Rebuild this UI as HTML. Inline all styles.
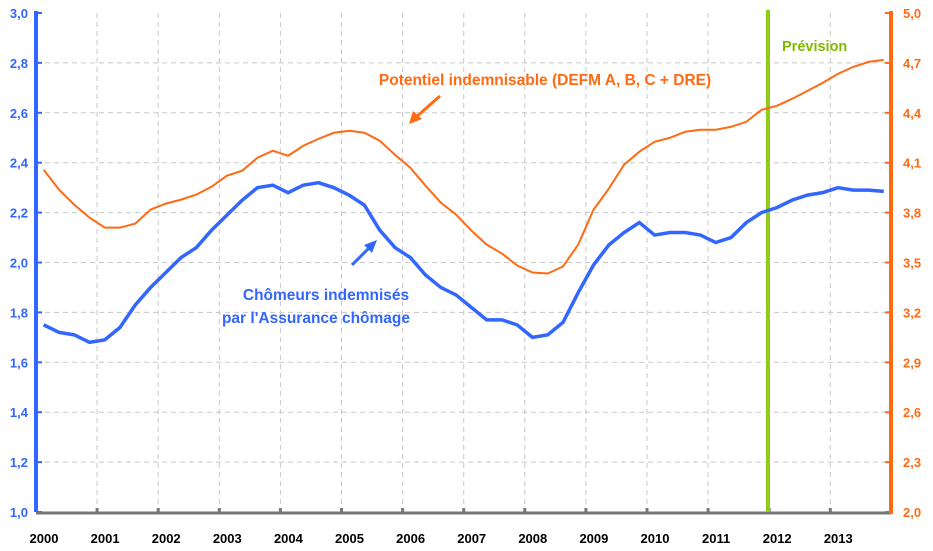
<!DOCTYPE html>
<html><head><meta charset="utf-8"><style>
body{margin:0;background:#fff;}
svg{display:block;font-family:"Liberation Sans",sans-serif;}
</style></head><body>
<svg id="c" width="933" height="551"></svg>
<script>
const years=["2000","2001","2002","2003","2004","2005","2006","2007","2008","2009","2010","2011","2012","2013"];
const leftTicks=[1.0,1.2,1.4,1.6,1.8,2.0,2.2,2.4,2.6,2.8,3.0];
const rightTicks=[2.0,2.3,2.6,2.9,3.2,3.5,3.8,4.1,4.4,4.7,5.0];
const blue=[1.75,1.72,1.71,1.68,1.69,1.74,1.83,1.90,1.96,2.02,2.06,2.13,2.19,2.25,2.30,2.31,2.28,2.31,2.32,2.30,2.27,2.23,2.13,2.06,2.02,1.95,1.90,1.87,1.82,1.77,1.77,1.75,1.70,1.71,1.76,1.88,1.99,2.07,2.12,2.16,2.11,2.12,2.12,2.11,2.08,2.10,2.16,2.20,2.22,2.25,2.27,2.28,2.30,2.29,2.29,2.285];
const orange=[4.058,3.938,3.848,3.77,3.71,3.71,3.734,3.818,3.854,3.878,3.908,3.956,4.022,4.052,4.13,4.172,4.142,4.202,4.244,4.28,4.292,4.28,4.232,4.148,4.07,3.962,3.86,3.788,3.692,3.608,3.554,3.482,3.44,3.434,3.476,3.608,3.818,3.944,4.088,4.166,4.226,4.25,4.286,4.298,4.298,4.316,4.346,4.418,4.442,4.484,4.532,4.58,4.634,4.676,4.706,4.718];
const forecastYear=2011.98;
const NS="http://www.w3.org/2000/svg";
const svg=document.getElementById('c');
const X0=36,XW=61.1,YT=13,YB=512;
const xs=t=>X0+XW*(t-2000);
const yl=v=>YB-(v-1)/2*(YB-YT);
const yr=v=>YB-(v-2)/3*(YB-YT);
function el(tag,a,parent){const e=document.createElementNS(NS,tag);for(const k in a)e.setAttribute(k,a[k]);(parent||svg).appendChild(e);return e;}
leftTicks.forEach((v,i)=>{
  if(i>0&&i<leftTicks.length-1){const g=el('line',{x1:X0,x2:891,y1:yl(v),y2:yl(v),stroke:'#c8c8c8','stroke-dasharray':'5,4','stroke-width':1});
  
  }
  const t=el('text',{x:28,y:yl(v)+5,'text-anchor':'end','font-size':13,'font-weight':'bold',fill:'#3366ff'});
  t.textContent=v.toFixed(1).replace('.',',');
  
  
  el('line',{x1:X0,x2:X0+6,y1:yl(v),y2:yl(v),stroke:'#3366ff','stroke-width':2});
});
rightTicks.forEach(v=>{
  const t=el('text',{x:903,y:yr(v)+5,'font-size':13,'font-weight':'bold',fill:'#ff6a13'});
  t.textContent=v.toFixed(1).replace('.',',');
  
  
  el('line',{x1:885,x2:891,y1:yr(v),y2:yr(v),stroke:'#ff6a13','stroke-width':2});
});
years.forEach((y,i)=>{
  const x=xs(2000+i);
  if(i>0){const g=el('line',{x1:x,x2:x,y1:YT,y2:YB,stroke:'#c8c8c8','stroke-dasharray':'5,4','stroke-width':1});
  
  
  el('line',{x1:x,x2:x,y1:YB-4,y2:YB,stroke:'#777','stroke-width':3});}
  const t=el('text',{x:x+8,y:543,'text-anchor':'middle','font-size':13,'font-weight':'bold',fill:'#000'});
  t.textContent=y;
  
  
});
const xa=el('line',{x1:X0,x2:891,y1:YB+1,y2:YB+1,stroke:'#777','stroke-width':3});

const la=el('line',{x1:X0,x2:X0,y1:YT-2,y2:YB,stroke:'#3366ff','stroke-width':4});

const ra=el('line',{x1:891,x2:891,y1:YT-2,y2:YB+2,stroke:'#ff6a13','stroke-width':4});

const fx=xs(forecastYear);
const fl=el('line',{x1:fx,x2:fx,y1:10,y2:YB,stroke:'#8fcc1a','stroke-width':4});

const ft=el('text',{x:782,y:51,'font-size':14.5,'font-weight':'bold',fill:'#7cbb00'});ft.textContent='Prévision';

const px=i=>xs(2000+(i+0.5)/4);
const op=el('polyline',{points:orange.map((v,i)=>px(i)+','+yr(v)).join(' '),fill:'none',stroke:'#ff6a13','stroke-width':2});

const bp=el('polyline',{points:blue.map((v,i)=>px(i)+','+yl(v)).join(' '),fill:'none',stroke:'#3366ff','stroke-width':3.5});

const ot=el('text',{x:545,y:85,'text-anchor':'middle','font-size':15.5,'font-weight':'bold',fill:'#ff6a13'});ot.textContent='Potentiel indemnisable (DEFM A, B, C + DRE)';

el('line',{x1:440,y1:96,x2:415,y2:118,stroke:'#ff6a13','stroke-width':3});
el('polygon',{points:'409,124 413,111 422,119',fill:'#ff6a13'});
const bt1=el('text',{x:326,y:300,'text-anchor':'middle','font-size':15.5,'font-weight':'bold',fill:'#3366ff'});bt1.textContent='Chômeurs indemnisés';

const bt2=el('text',{x:316,y:323,'text-anchor':'middle','font-size':15.5,'font-weight':'bold',fill:'#3366ff'});bt2.textContent="par l'Assurance chômage";

el('line',{x1:352,y1:265,x2:370,y2:247,stroke:'#3366ff','stroke-width':3});
el('polygon',{points:'377,240 364,245 372,253',fill:'#3366ff'});
</script>
</body></html>
